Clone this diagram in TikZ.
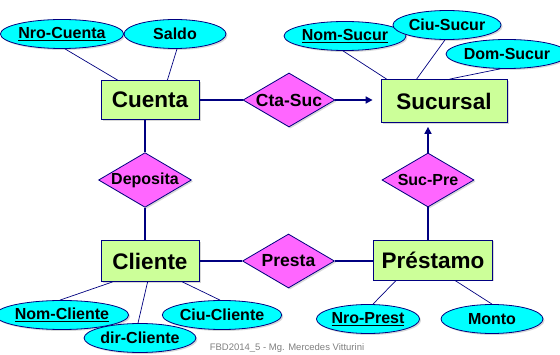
\documentclass[tikz,border=0pt]{standalone}
\usepackage{fontspec}
\setmainfont{Liberation Sans}
\usetikzlibrary{shapes.geometric,shadows,arrows.meta}

\definecolor{celeste}{RGB}{0,255,255}
\definecolor{verde}{RGB}{204,255,153}
\definecolor{rosa}{RGB}{255,102,255}
\definecolor{azul}{RGB}{0,0,128}

\tikzset{
  sombra/.style={drop shadow={shadow xshift=1.5pt,shadow yshift=-1.5pt,fill=gray!60}},
  entidad/.style={rectangle,draw=azul,fill=verde,line width=0.8pt,inner sep=0pt,
    font=\fontsize{22.5}{25}\selectfont\bfseries,sombra},
  relacion/.style={diamond,draw=azul,fill=rosa,line width=0.8pt,inner sep=0pt,aspect=1.7,
    minimum width=92pt,minimum height=54pt,font=\fontsize{16}{18}\selectfont\bfseries,sombra},
  atributo/.style={ellipse,draw=azul,fill=celeste,line width=0.8pt,inner sep=0pt,
    minimum width=102pt,minimum height=29pt,font=\fontsize{16}{18}\selectfont\bfseries,sombra},
  enlace/.style={draw=azul,line width=0.7pt},
  rel/.style={draw=azul,line width=1.6pt},
  flecha/.style={draw=azul,line width=1.6pt,-{Triangle[width=7pt,length=7pt]}}
}

\begin{document}
\begin{tikzpicture}[x=1pt,y=-1pt]
    \useasboundingbox[fill=white](0,0) rectangle (560,355);

    % entidades
    \node[entidad,minimum width=98pt,minimum height=39pt](cuenta) at (150,100){Cuenta};
    \node[entidad,minimum width=126pt,minimum height=43pt](sucursal) at (444,101){Sucursal};
    \node[entidad,minimum width=98pt,minimum height=41pt](cliente) at (150,261){Cliente};
    \node[entidad,minimum width=119pt,minimum height=40pt](prestamo) at (433,260){Préstamo};

    % relaciones
    \node[relacion,font=\fontsize{17.5}{19}\selectfont\bfseries](ctasuc) at (289,100){Cta-Suc};
    \node[relacion](deposita) at (145,180){Deposita};
    \node[relacion](sucpre) at (428,180){Suc-Pre};
    \node[relacion,font=\fontsize{17.5}{19}\selectfont\bfseries](presta) at (288.5,261){Presta};

    % atributos
    \node[atributo](nrocta) at (62,34){\underline{Nro-Cuenta}};
    \node[atributo](saldo) at (175,34){Saldo};
    \node[atributo](nomsuc) at (345,36){\underline{Nom-Sucur}};
    \node[atributo](ciusuc) at (447,25){Ciu-Sucur};
    \node[atributo](domsuc) at (507,54){Dom-Sucur};
    \node[atributo](nomcli) at (62,315){\underline{Nom-Cliente}};
    \node[atributo](dircli) at (140,338){dir-Cliente};
    \node[atributo](ciucli) at (222,315){Ciu-Cliente};
    \node[atributo](nropre) at (368,319){\underline{Nro-Prest}};
    \node[atributo](monto) at (492,319){Monto};

    \node[font=\fontsize{9.5}{11}\selectfont,text=gray,inner sep=1pt](pie) at (287,348.5){FBD2014\_5 - Mg. Mercedes Vitturini};

    % lineas de relaciones
    \draw[rel](cuenta.east)--(ctasuc.west);
    \draw[flecha](ctasuc.east)--([xshift=-8pt]ctasuc.east -| sucursal.west);
    \draw[rel](deposita.north)--(deposita.north |- cuenta.south);
    \draw[rel](deposita.south)--(deposita.south |- cliente.north);
    \draw[rel](cliente.east)--(cliente.east -| presta.west);
    \draw[rel](presta.east)--(presta.east -| prestamo.west);
    \draw[rel](sucpre.south)--(sucpre.south |- prestamo.north);
    \draw[flecha](sucpre.north)--([yshift=-4pt]sucpre.north |- sucursal.south);

    % lineas de atributos
    \draw[enlace]([xshift=3pt]nrocta.south)--([xshift=17pt]cuenta.north west);
    \draw[enlace]([xshift=2pt]saldo.south)--([xshift=-32pt]cuenta.north east);
    \draw[enlace]([xshift=-2pt]nomsuc.south)--([xshift=6pt]sucursal.north west);
    \draw[enlace]([xshift=-2pt]ciusuc.south)--([xshift=36pt]sucursal.north west);
    \draw[enlace]([xshift=-7pt]domsuc.south)--([xshift=69pt]sucursal.north west);
    \draw[enlace]([xshift=12pt]cliente.south west)--([xshift=-2pt]nomcli.north);
    \draw[enlace]([xshift=47pt]cliente.south west)--([xshift=-2pt]dircli.north);
    \draw[enlace]([xshift=-17pt]cliente.south east)--([xshift=-2pt]ciucli.north);
    \draw[enlace]([xshift=23pt]prestamo.south west)--([xshift=5pt]nropre.north);
    \draw[enlace]([xshift=-38pt]prestamo.south east)--(monto.north);
\end{tikzpicture}
\end{document}
